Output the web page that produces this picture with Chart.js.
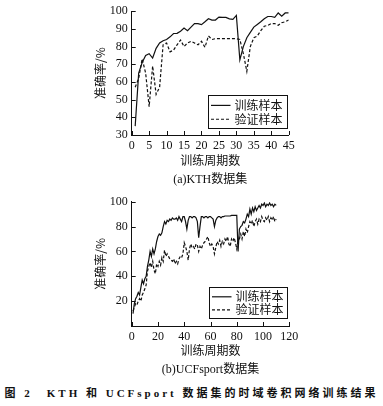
<!DOCTYPE html>
<html><head><meta charset="utf-8">
<script src="https://cdn.jsdelivr.net/npm/chart.js@4/dist/chart.umd.min.js"></script>
<style>
html,body{margin:0;padding:0;background:#fff;width:383px;height:406px;overflow:hidden}
.box{position:absolute;left:0;width:383px;height:190px}
#cap{position:absolute;left:0;top:384px;width:383px;text-align:center;font:bold 11px "Liberation Serif","Noto Sans CJK SC";letter-spacing:3px;white-space:pre;color:#111}
</style></head><body>
<div class="box" style="top:0"><canvas id="c1" width="383" height="190"></canvas></div>
<div class="box" style="top:190px"><canvas id="c2" width="383" height="190"></canvas></div>
<div id="cap">图 2　KTH 和 UCFsport 数据集的时域卷积网络训练结果</div>
<script>
// ---- data: (a) KTH ----
const kthEpochs = [1,2,3,4,5,6,7,8,9,10,11,12,13,14,15,16,17,18,19,20,21,22,23,24,25,26,27,28,29,30,31,32,33,34,35,36,37,38,39,40,41,42,43,44,45];
const kthTrain = [35,65,71,75,76,73.5,79,82,83.3,84,85.5,87.4,87.5,88.7,90.5,89,91,93,93,92.4,94,95.7,95,95,96.7,96.5,96.5,95.7,95.4,97.6,72.5,80,85,88,91,92.5,94,95.7,97,97,96.5,99,97.2,99,99];
const kthVal = [57,62,73,65,46,69,53,57,81,82,77,78,81,83.7,80,82,83,82,81,83,79.6,86,84,84.5,84.5,84.5,84.5,84.5,84.5,84.4,84,76,66,80,85,86,89,91.5,92,93,93,92,93.5,94,95];
const kthXTicks = {min:0,max:45,step:5};
const kthYTicks = {min:30,max:100,step:10};

// ---- data: (b) UCFsport ----
const ucfEpochs = [1,2,3,4,5,6,7,8,9,10,11,12,13,14,15,16,17,18,19,20,21,22,23,24,25,26,27,28,29,30,31,32,33,34,35,36,37,38,39,40,41,42,43,44,45,46,47,48,49,50,51,52,53,54,55,56,57,58,59,60,61,62,63,64,65,66,67,68,69,70,71,72,73,74,75,76,77,78,79,80,81,82,83,84,85,86,87,88,89,90,91,92,93,94,95,96,97,98,99,100,101,102,103,104,105,106,107,108,109,110];
const ucfTrain = [10,18,22,24,27,25,31,37,34,38,40,48,53,60,56,62,58,62,68,72,74,73,75,80,84,82,85,84,86,85,87,86,86,87,85,88,86,84,88,88,84,78,85,88,88,87,88,88,87,84,71,80,88,88,87,88,88,87,88,88,87,86,80,85,87,88,88,87,88,88,88.5,88.5,88.5,88.5,88.5,89,89,89,89,89,60,78,80,81,84,83,86,90,88,94,90,95,92,96,93,95,97,95,98,97,99,96,98,97,99,97,98,96,98,97];
const ucfVal = [12,15,18,17,20,22,20,25,27,30,33,44,48,51,47,52,45,42,50,48,52,49,55,52,61,56,58,56,54,53,52,54,50,52,50,54,56,55,58,67,64,60,53,62,66,63,64,62,66,65,60,64,62,65,67,68,70,72,67,64,66,64,58,63,68,66,69,64,68,66,70,68,72,66,64,70,68,71,67,62,68,70,74,70,76,72,78,75,80,84,82,85,80,84,86,82,86,84,88,85,84,87,85,88,84,87,85,88,84,86];
const ucfXTicks = {min:0,max:120,step:20};
const ucfYTicks = {min:0,max:100,step:20};

const seriesNames = ['训练样本','验证样本'];
const xTitle = '训练周期数';
const yTitle = '准确率/%';
const subTitles = ['(a)KTH数据集','(b)UCFsport数据集'];

const FONT_NUM = '"Liberation Serif","Noto Sans CJK SC",serif';
const FONT_CJK = '"Noto Sans CJK SC","Liberation Serif",sans-serif';
const INK = '#111';

function pts(xs, ys){ return xs.map((x,i)=>({x:x,y:ys[i]})); }

const inwardTicks = {
  id:'inwardTicks',
  afterDatasetsDraw(chart){
    const ctx = chart.ctx, a = chart.chartArea, xs = chart.scales.x, ys = chart.scales.y;
    ctx.save(); ctx.strokeStyle = INK; ctx.lineWidth = 1;
    xs.ticks.forEach(t=>{ const p = Math.round(xs.getPixelForValue(t.value))+0.5;
      ctx.beginPath(); ctx.moveTo(p,a.bottom); ctx.lineTo(p,a.bottom-4); ctx.stroke(); });
    ys.ticks.forEach(t=>{ const p = Math.round(ys.getPixelForValue(t.value))+0.5;
      ctx.beginPath(); ctx.moveTo(a.left,p); ctx.lineTo(a.left+4,p); ctx.stroke(); });
    ctx.restore();
  }
};

const boxLegend = {
  id:'boxLegend',
  afterDatasetsDraw(chart, args, opts){
    const ctx = chart.ctx, a = chart.chartArea;
    const w = opts.w, h = opts.h;
    const L = Math.round(a.right - opts.dr - w)+0.5, T = Math.round(a.bottom - opts.db - h)+0.5;
    ctx.save();
    ctx.fillStyle = '#fff'; ctx.fillRect(L,T,w,h);
    ctx.strokeStyle = INK; ctx.lineWidth = 1; ctx.strokeRect(L,T,w,h);
    ctx.font = '12px ' + FONT_CJK; ctx.fillStyle = INK; ctx.textBaseline = 'middle';
    chart.data.datasets.forEach((ds,i)=>{
      const yy = T + h*(i===0?0.3:0.72);
      ctx.beginPath(); ctx.setLineDash(ds.borderDash||[]); ctx.lineWidth = ds.borderWidth; ctx.strokeStyle = ds.borderColor;
      ctx.moveTo(L+2.5,yy); ctx.lineTo(L+22,yy); ctx.stroke();
      ctx.setLineDash([]);
      ctx.fillText(ds.label, L+26, yy);
    });
    ctx.restore();
  }
};

function makeChart(id, epochs, train, val, xt, yt, sub, lay, axH, leg, hideY0){
  return new Chart(document.getElementById(id), {
    type:'line',
    data:{ datasets:[
      {label:seriesNames[0], data:pts(epochs,train), borderColor:INK, borderWidth:1.2, pointRadius:0, tension:0, fill:false},
      {label:seriesNames[1], data:pts(epochs,val), borderColor:INK, borderWidth:1.2, borderDash:[3,2], pointRadius:0, tension:0, fill:false}
    ]},
    options:{
      responsive:false, animation:false, events:[],
      layout:{padding:lay},
      plugins:{legend:{display:false}, tooltip:{enabled:false}, boxLegend:leg},
      scales:{
        x:{type:'linear', min:xt.min, max:xt.max,
           ticks:{stepSize:xt.step, color:INK, font:{family:FONT_NUM,size:12}, padding:4, maxRotation:0},
           grid:{display:true, drawOnChartArea:false, drawTicks:false, color:INK},
           border:{display:true, color:INK, width:1},
           title:{display:true, text:[xTitle, sub], color:INK, font:{family:FONT_NUM,size:12,lineHeight:1.5}, padding:{top:0,bottom:1}},
           afterFit:(s)=>{ s.height = axH; }
        },
        y:{min:yt.min, max:yt.max,
           ticks:{stepSize:yt.step, color:INK, font:{family:FONT_NUM,size:12}, padding:4,
                  callback:(v)=> (hideY0 && v===0) ? '' : v},
           grid:{display:true, drawOnChartArea:false, drawTicks:false, color:INK},
           border:{display:true, color:INK, width:1},
           title:{display:true, text:yTitle, color:INK, font:{family:FONT_CJK,size:12,lineHeight:1.5}, padding:{top:0,bottom:0}},
           afterFit:(s)=>{ s.width = 40; }
        }
      }
    },
    plugins:[inwardTicks, boxLegend]
  });
}

makeChart('c1', kthEpochs, kthTrain, kthVal, kthXTicks, kthYTicks, subTitles[0],
  {left:91.7, right:94.3, top:9, bottom:0}, 55, {w:79,h:33,dr:1.4,db:6.7}, false);
makeChart('c2', ucfEpochs, ucfTrain, ucfVal, ucfXTicks, ucfYTicks, subTitles[1],
  {left:91.7, right:93.7, top:11.7, bottom:0}, 54, {w:78,h:31,dr:2.3,db:8}, true);
</script>
</body></html>
